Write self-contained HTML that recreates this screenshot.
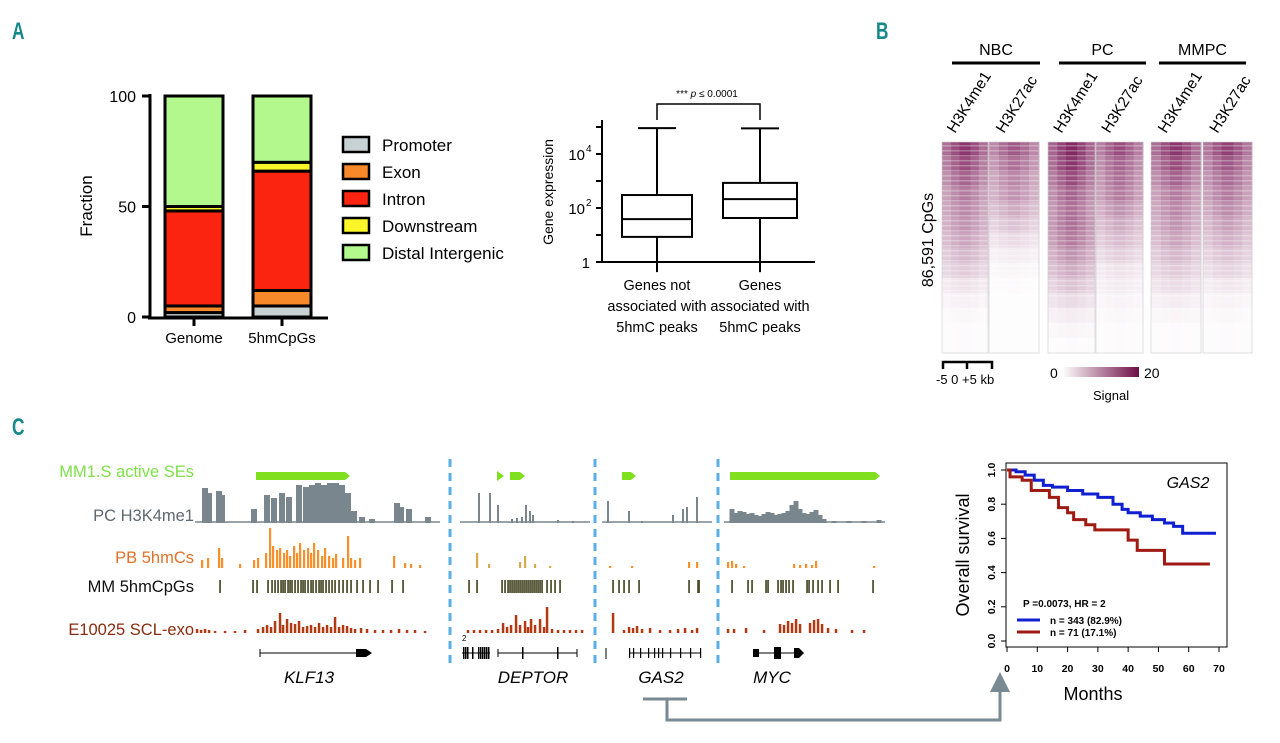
<!DOCTYPE html>
<html><head><meta charset="utf-8"><style>
body{margin:0;background:#fff;width:1280px;height:743px;overflow:hidden;font-family:"Liberation Sans",sans-serif}
svg{position:absolute;left:0;top:0}
</style></head><body>
<svg id="fig" width="1280" height="743" viewBox="0 0 1280 743" xmlns="http://www.w3.org/2000/svg" font-family="Liberation Sans, sans-serif">
<g fill="#17888a" font-weight="bold" font-size="24">
<text x="12" y="39" transform="translate(12 39) scale(0.72 1) translate(-12 -39)">A</text>
<text x="876" y="39" transform="translate(876 39) scale(0.72 1) translate(-876 -39)">B</text>
<text x="12" y="435" transform="translate(12 435) scale(0.72 1) translate(-12 -435)">C</text>
</g>
<g id="pA"></g>
<g id="pBox"></g>
<g id="pB"></g>
<g id="pC"></g>
<g id="pKM"></g>
</svg>
<script>
// ---------- Panel A data ----------
const barCats=["Genome","5hmCpGs"];
const segNames=["Promoter","Exon","Intron","Downstream","Distal Intergenic"];
const segColors=["#c8d2d4","#f7892b","#fb2410","#fbf52a","#b2f88d"];
const genomeVals=[2,3,43,2,50];
const hmcVals=[5,7,54,4,30];
// ---------- Boxplot data (log10) ----------
const boxCats=["not","assoc"];
const boxQ1=[0.93,1.63];
const boxMed=[1.59,2.33];
const boxQ3=[2.48,2.93];
const boxHi=[4.96,4.95];
const boxLo=[-0.3,-0.3];
// ---------- Heatmap data (band intensity top->bottom) ----------
const hmCols=["NBC H3K4me1","NBC H3K27ac","PC H3K4me1","PC H3K27ac","MMPC H3K4me1","MMPC H3K27ac"];
const hm0=[.85,.75,.65,.55,.5,.45,.38,.3,.22,.12,.06,.03,.02,.02];
const hm1=[.7,.6,.5,.45,.35,.25,.15,.08,.04,.02,.01,.01,.01,.01];
const hm2=[.9,.85,.75,.65,.6,.6,.55,.45,.35,.25,.15,.08,.04,.02];
const hm3=[.75,.65,.6,.55,.45,.35,.28,.2,.12,.08,.05,.03,.02,.02];
const hm4=[.85,.75,.65,.55,.5,.45,.38,.3,.22,.15,.08,.04,.02,.02];
const hm5=[.8,.7,.62,.55,.48,.4,.33,.25,.18,.1,.05,.03,.02,.02];
// ---------- Survival data ----------
const kmBlueT=[0,3,6,9,12,15,20,25,30,35,38,40,44,48,52,55,58,69];
const kmBlueS=[1,.99,.97,.94,.91,.9,.88,.86,.84,.8,.77,.75,.73,.71,.69,.67,.63,.63];
const kmRedT=[0,1,5,8,14,17,20,22,26,29,40,43,52,67];
const kmRedS=[1,.96,.94,.88,.84,.78,.75,.71,.68,.65,.59,.53,.45,.45];
const kmTicks=[0,10,20,30,40,50,60,70];
const kmYTicks=[0,0.2,0.4,0.6,0.8,1.0];
// ---------- Genome track data (pos offset, height) ----------
const klfGray=[[10,35],[14,30],[24,32],[27,28],[59,14],[72,28],[79,25],[87,30],[94,26],[104,38],[111,36],[117,38],[123,40],[129,38],[135,40],[141,40],[147,38],[153,30],[159,12],[167,6],[177,4],[202,20],[206,16],[214,14],[233,6]];
const klfOrange=[[7,8],[13,10],[24,20],[27,10],[45,4],[59,8],[63,10],[71,15],[75,40],[78,22],[82,18],[85,20],[89,15],[92,18],[95,12],[99,22],[102,15],[105,25],[109,18],[113,20],[116,15],[119,25],[123,18],[127,12],[130,20],[134,12],[138,10],[141,14],[148,10],[153,32],[156,10],[160,8],[165,10],[199,12],[210,5],[216,4],[225,3]];
const klfTicks=[25,58,62,73,77,80,83,86,88,90,93,95,97,100,103,106,108,110,113,116,118,121,124,126,128,131,134,137,140,144,148,152,156,162,168,175,183,197,208];
const klfBrown=[[2,4],[6,3],[10,4],[14,3],[20,2],[30,2],[40,2],[50,3],[63,4],[68,6],[72,8],[76,6],[80,12],[85,20],[88,8],[92,14],[96,10],[100,9],[104,12],[108,6],[112,7],[116,8],[120,6],[124,10],[128,6],[132,8],[136,6],[140,16],[144,6],[148,8],[152,7],[156,5],[160,4],[166,5],[172,4],[180,3],[188,3],[196,3],[204,4],[212,3],[220,3],[230,2]];
const depGray=[[19,30],[30,30],[38,18],[52,4],[57,5],[62,6],[66,18],[70,12],[73,8],[98,3],[113,2]];
const depOrange=[[17,15],[29,4],[60,6],[65,12],[75,4],[90,2]];
const depTicks=[9,17,42,45,48,50,52,54,56,58,60,62,64,66,68,70,72,74,76,78,80,82,87,91,95,100];
const depBrown=[[8,3],[14,3],[20,3],[26,3],[32,3],[38,4],[43,10],[47,6],[51,8],[56,18],[60,8],[65,12],[68,6],[71,14],[75,8],[80,14],[84,6],[87,26],[92,4],[98,3],[104,3],[110,3],[116,3],[122,3]];
const gasGray=[[6,22],[27,12],[40,2],[71,8],[81,14],[85,16],[95,26]];
const gasOrange=[[8,2],[30,2],[87,6],[95,6]];
const gasTicks=[11,17,22,27,37,87,96,97];
const gasBrown=[[11,20],[22,3],[27,6],[31,5],[35,7],[40,4],[48,5],[58,3],[68,3],[76,4],[83,5],[90,3],[95,5]];
const mycGray=[[8,14],[12,10],[16,12],[20,11],[24,9],[28,10],[32,8],[36,7],[40,9],[44,11],[48,10],[52,8],[56,9],[60,10],[64,12],[68,18],[72,22],[76,14],[80,10],[84,9],[88,11],[92,13],[96,8],[100,4],[110,2],[125,2],[140,2],[155,3]];
const mycOrange=[[4,6],[8,7],[12,4],[20,2],[70,4],[76,3],[82,4],[88,3],[92,7],[150,2]];
const mycTicks=[8,24,28,42,44,54,57,59,62,65,69,83,85,89,94,98,106,114,149];
const mycBrown=[[4,4],[10,4],[22,5],[40,3],[56,9],[60,8],[64,12],[68,10],[72,14],[76,9],[86,10],[90,13],[94,14],[98,9],[104,5],[112,4],[128,3],[140,3]];

const NS="http://www.w3.org/2000/svg";
function mk(parent,tag,attrs,text){const e=document.createElementNS(NS,tag);for(const k in attrs)e.setAttribute(k,attrs[k]);if(text!==undefined)e.textContent=text;parent.appendChild(e);return e;}

// ===== Panel A =====
(function(){
const g=document.getElementById('pA');
const y=v=>317-v*2.21;
const barX=[165,253],bw=58;
const series=[genomeVals,hmcVals];
series.forEach((vals,i)=>{let acc=0;vals.forEach((v,j)=>{
 const r=mk(g,'rect',{x:barX[i],y:y(acc+v),width:bw,height:v*2.21,fill:segColors[j],stroke:'#000','stroke-width':3});
 
 
 acc+=v;});
 const t=mk(g,'text',{x:barX[i]+bw/2,y:343,'text-anchor':'middle','font-size':15},barCats[i]);
 
 mk(g,'line',{x1:barX[i]+bw/2,y1:318,x2:barX[i]+bw/2,y2:326,stroke:'#000','stroke-width':3});
});
mk(g,'line',{x1:150,y1:94,x2:150,y2:319,stroke:'#000','stroke-width':3});
mk(g,'line',{x1:148,y1:318,x2:328,y2:318,stroke:'#000','stroke-width':3});
[0,50,100].forEach(v=>{mk(g,'line',{x1:142,y1:y(v),x2:150,y2:y(v),stroke:'#000','stroke-width':3});
 const t=mk(g,'text',{x:136,y:y(v)+6,'text-anchor':'end','font-size':16},String(v));});
const yt=mk(g,'text',{x:92,y:206,'text-anchor':'middle','font-size':17,transform:'rotate(-90 92 206)'},'Fraction');

segNames.forEach((n,j)=>{const yy=145+j*27;
 const r=mk(g,'rect',{x:343,y:yy-8,width:26,height:15,fill:segColors[j],stroke:'#000','stroke-width':2.5});
 
 const t=mk(g,'text',{x:382,y:yy+6,'font-size':17},n);});
})();

// ===== Boxplot =====
(function(){
const g=document.getElementById('pBox');
const y=v=>262-v*27;
const cx=[657,760],hw=[35,37];
mk(g,'line',{x1:602,y1:120,x2:602,y2:263,stroke:'#000','stroke-width':2});
mk(g,'line',{x1:601,y1:262,x2:815,y2:262,stroke:'#000','stroke-width':2});
[0,1,2,3,4,5].forEach(v=>mk(g,'line',{x1:596,y1:y(v),x2:602,y2:y(v),stroke:'#000','stroke-width':2}));
[[0,'1'],[2,'10'],[4,'10']].forEach(([v,l])=>{const t=mk(g,'text',{x:(v?585:590),y:y(v)+6,'text-anchor':'end','font-size':15},l);
 
 if(v){mk(g,'text',{x:586,y:y(v)-2,'font-size':10},String(v));}});
const yt=mk(g,'text',{x:553,y:192,'text-anchor':'middle','font-size':14,transform:'rotate(-90 553 192)'},'Gene expression');

boxCats.forEach((c,i)=>{
 const wl=mk(g,'line',{x1:cx[i],y1:y(boxHi[i]),x2:cx[i],y2:y(boxLo[i])+2,stroke:'#000','stroke-width':2});
 
 mk(g,'line',{x1:cx[i]-19,y1:y(boxHi[i]),x2:cx[i]+19,y2:y(boxHi[i]),stroke:'#000','stroke-width':2});
 const b=mk(g,'rect',{x:cx[i]-hw[i],y:y(boxQ3[i]),width:hw[i]*2,height:(boxQ3[i]-boxQ1[i])*27,fill:'#fff',stroke:'#000','stroke-width':2});
 
 mk(g,'line',{x1:cx[i]-hw[i],y1:y(boxMed[i]),x2:cx[i]+hw[i],y2:y(boxMed[i]),stroke:'#000','stroke-width':2});
});
mk(g,'path',{d:'M657 120 V104 H760 V120',fill:'none',stroke:'#000','stroke-width':1.5});
const p=mk(g,'text',{x:707,y:97,'text-anchor':'middle','font-size':10},'*** ');

mk(p,'tspan',{'font-style':'italic'},'p');mk(p,'tspan',{},' ≤ 0.0001');
[['Genes  not','associated  with','5hmC peaks',657],['Genes','associated with','5hmC peaks',760]].forEach(a=>{
 [0,1,2].forEach(k=>{const t=mk(g,'text',{x:a[3],y:290+k*21,'text-anchor':'middle','font-size':14.5},a[k]);
 });});
})();

// ===== Heatmap =====
(function(){
const g=document.getElementById('pB');
const cols=[hm0,hm1,hm2,hm3,hm4,hm5];
const xs=[[942,988],[989,1039],[1048,1095],[1096,1143],[1151,1201],[1203,1252]];
const top=142,bot=353;
const col=v=>{const r=Math.round(255-(255-118)*v),gg=Math.round(255-(255-18)*v),b=Math.round(255-(255-82)*v);return `rgb(${r},${gg},${b})`;};
const defs=mk(g,'defs',{});
const pat=mk(defs,'pattern',{id:'stripes',width:4,height:5,patternUnits:'userSpaceOnUse'});
mk(pat,'rect',{x:0,y:0,width:4,height:1.5,fill:'#fff',opacity:0.3});
cols.forEach((arr,ci)=>{
 const [x0,x1]=xs[ci];const bh=(bot-top)/arr.length;const w=(x1-x0);
 arr.forEach((v,bi)=>{
  [[0,0.2,0.72],[0.2,0.38,0.88],[0.38,0.62,1],[0.62,0.8,0.88],[0.8,1,0.72]].forEach(([a,b,f])=>{
   const r=mk(g,'rect',{x:x0+a*w,y:top+bi*bh,width:(b-a)*w+0.5,height:bh+0.5,fill:col(v*f)});
   
  });
 });
 mk(g,'rect',{x:x0,y:top,width:w,height:(bot-top)*0.75,fill:'url(#stripes)'});
 mk(g,'rect',{x:x0,y:top,width:w,height:bot-top,fill:'none',stroke:'#ccc','stroke-width':0.6});
 const lab=hmCols[ci].split(' ')[1];const lx=x0+w/2-10,ly=top-8;
 const t=mk(g,'text',{x:lx,y:ly,'font-size':15.5,transform:`rotate(-58 ${lx} ${ly})`},lab);
 
});
[['NBC',952,1040],['PC',1059,1146],['MMPC',1159,1246]].forEach(([n,a,b])=>{
 mk(g,'line',{x1:a,y1:63,x2:b,y2:63,stroke:'#000','stroke-width':3});
 const t=mk(g,'text',{x:(a+b)/2,y:55,'text-anchor':'middle','font-size':16},n);
 });
const yt=mk(g,'text',{x:933,y:240,'text-anchor':'middle','font-size':16,transform:'rotate(-90 933 240)'},'86,591 CpGs');

mk(g,'path',{d:'M943 369 V362 H992 V369 M967 362 V369',fill:'none',stroke:'#000','stroke-width':2.5});
const sc=mk(g,'text',{x:936,y:384,'font-size':13},'-5   0  +5 kb');
const lg=mk(defs,'linearGradient',{id:'cbar'});mk(lg,'stop',{offset:0,'stop-color':'#fff'});mk(lg,'stop',{offset:1,'stop-color':'#6e0f45'});
const cb=mk(g,'rect',{x:1062,y:367,width:77,height:10,fill:'url(#cbar)'});
mk(g,'text',{x:1050,y:378,'font-size':14},'0');mk(g,'text',{x:1144,y:378,'font-size':14},'20');
const sg=mk(g,'text',{x:1093,y:400,'font-size':13},'Signal');
})();

// ===== Genome tracks =====
(function(){
const g=document.getElementById('pC');
const labels=[['MM1.S active SEs',477,'#7fe04a'],['PC H3K4me1',521,'#5d6870'],['PB 5hmCs',563,'#e0702a'],['MM 5hmCpGs',592,'#111'],['E10025 SCL-exo',635,'#8a2c10']];
labels.forEach(([t,y,c])=>{const e=mk(g,'text',{x:194,y:y,'text-anchor':'end','font-size':16.5,fill:c},t);});
[450,595,718].forEach(x=>{const l=mk(g,'line',{x1:x,y1:459,x2:x,y2:668,stroke:'#5aaee8','stroke-width':3,'stroke-dasharray':'8 6'});});
const loci=[{x0:195,gray:klfGray,or:klfOrange,ticks:klfTicks,br:klfBrown,gw:6,end:440},
{x0:460,gray:depGray,or:depOrange,ticks:depTicks,br:depBrown,gw:2,end:590},
{x0:602,gray:gasGray,or:gasOrange,ticks:gasTicks,br:gasBrown,gw:2,end:712},
{x0:724,gray:mycGray,or:mycOrange,ticks:mycTicks,br:mycBrown,gw:5,end:885}];
loci.forEach(L=>{
 const xs=p=>L.x0+p;
 mk(g,'line',{x1:L.x0,y1:522,x2:L.end,y2:522,stroke:'#7a868d','stroke-width':1.5});
 L.gray.forEach(([p,h])=>{const r=mk(g,'rect',{x:xs(p)-L.gw/2,y:523-h,width:L.gw,height:h,fill:'#7a868d'});});
 L.or.forEach(([p,h])=>{const r=mk(g,'rect',{x:xs(p)-1,y:568-h,width:2.2,height:h,fill:L.x0==460?'#d6aa50':'#f7902a'});});
 L.ticks.forEach(p=>{const r=mk(g,'rect',{x:xs(p)-0.8,y:580,width:1.7,height:13,fill:'#4a4a2a'});});
 L.br.forEach(([p,h])=>{const r=mk(g,'rect',{x:xs(p)-1.2,y:633-h,width:2.5,height:h,fill:'#b13a12'});});
});
[[256,350],[510,525],[622,636],[730,880]].forEach(([a,b])=>{const p=mk(g,'path',{d:`M${a} 472 H${b-5} L${b} 476 L${b-5} 480 H${a} Z`,fill:'#80e020'});});
mk(g,'path',{d:'M497 471 L504 476 L497 481 Z',fill:'#80e020'});
mk(g,'path',{d:'M260 653 H360 M260 649 V657',stroke:'#000','stroke-width':1,fill:'none'});
mk(g,'path',{d:'M356 649 H366 L372 653 L366 657 H356 Z',fill:'#000'});
mk(g,'path',{d:'M462 653 H490 M498 653 H577 M498 649 V657 M577 649 V657',stroke:'#000','stroke-width':1,fill:'none'});
[463,465,467,472,478,480,482,484,486,488,522,557].forEach(x=>mk(g,'rect',{x:x,y:647,width:1.5,height:12,fill:'#000'}));
mk(g,'text',{x:462,y:641,'font-size':8},'2');
mk(g,'path',{d:'M629 653 H700 M606 648 V659',stroke:'#000','stroke-width':1,fill:'none'});
[629,633,640,648,654,658,662,670,680,690,700].forEach(x=>mk(g,'rect',{x:x,y:648,width:1.2,height:10,fill:'#000'}));
mk(g,'path',{d:'M753 653 H795',stroke:'#000','stroke-width':1});
mk(g,'rect',{x:753,y:649,width:6,height:8,fill:'#000'});mk(g,'rect',{x:774,y:647,width:7,height:12,fill:'#000'});
mk(g,'path',{d:'M794 648 H799 L804 653 L799 658 H794 Z',fill:'#000'});
[['KLF13',309],['DEPTOR',533],['GAS2',661],['MYC',772]].forEach(([n,x])=>{const t=mk(g,'text',{x:x,y:683,'text-anchor':'middle','font-size':17,'font-style':'italic'},n);});
const con=mk(g,'path',{d:'M643 699 H687 M667 699 V720 H1000 V690',fill:'none',stroke:'#7a8a93','stroke-width':3});

mk(g,'path',{d:'M990 692 L1000 672 L1010 692 Z',fill:'#7a8a93'});
})();

// ===== Survival =====
(function(){
const g=document.getElementById('pKM');
const x=t=>1007+t*(212/70), y=s=>641-s*171;
mk(g,'rect',{x:1006,y:463,width:221,height:184,fill:'none',stroke:'#000','stroke-width':1});
kmTicks.forEach(t=>{mk(g,'line',{x1:x(t),y1:647,x2:x(t),y2:652,stroke:'#000'});
 const e=mk(g,'text',{x:x(t),y:672,'text-anchor':'middle','font-size':10.5,'font-weight':'bold'},String(t));});
kmYTicks.forEach(s=>{mk(g,'line',{x1:1001,y1:y(s),x2:1006,y2:y(s),stroke:'#000'});
 const e=mk(g,'text',{x:995,y:y(s),'text-anchor':'middle','font-size':10.5,'font-weight':'bold',transform:`rotate(-90 995 ${y(s)})`},s.toFixed(1));});
function steps(T,S){let d=`M${x(T[0])} ${y(S[0])}`;for(let i=1;i<T.length;i++){d+=` H${x(T[i])} V${y(S[i])}`;}return d;}
const b=mk(g,'path',{d:steps(kmBlueT,kmBlueS),fill:'none',stroke:'#1020d0','stroke-width':3});
const r=mk(g,'path',{d:steps(kmRedT,kmRedS),fill:'none',stroke:'#a01a14','stroke-width':3});
const ti=mk(g,'text',{x:1188,y:488,'text-anchor':'middle','font-size':16,'font-style':'italic'},'GAS2');
mk(g,'text',{x:1023,y:607,'font-size':10,'font-weight':'bold'},'P =0.0073, HR = 2');
mk(g,'line',{x1:1017,y1:620,x2:1040,y2:620,stroke:'#1020d0','stroke-width':3});
mk(g,'line',{x1:1017,y1:632,x2:1040,y2:632,stroke:'#a01a14','stroke-width':3});
const l1=mk(g,'text',{x:1050,y:624,'font-size':10,'font-weight':'bold'},'n = 343 (82.9%)');
const l2=mk(g,'text',{x:1050,y:636,'font-size':10,'font-weight':'bold'},'n = 71 (17.1%)');
const xt=mk(g,'text',{x:1093,y:700,'text-anchor':'middle','font-size':18},'Months');
const yt=mk(g,'text',{x:969,y:555,'text-anchor':'middle','font-size':18,transform:'rotate(-90 969 555)'},'Overall survival');
})();
</script>
</body></html>
